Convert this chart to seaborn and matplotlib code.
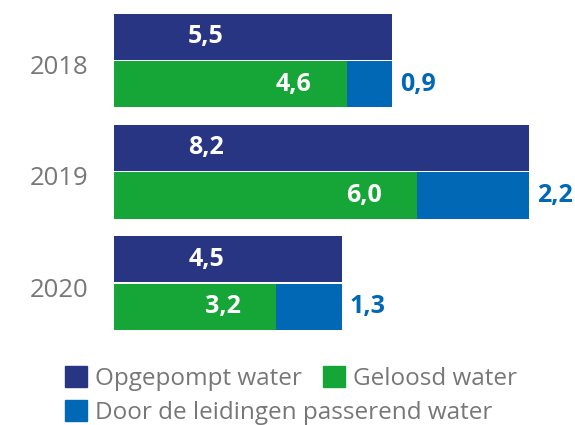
import matplotlib
matplotlib.use("Agg")
import matplotlib.pyplot as plt
import matplotlib.patches as mpatches
from matplotlib.transforms import offset_copy, ScaledTranslation
import seaborn as sns
import pandas as pd

years = ["2018", "2019", "2020"]
opgepompt = [5.5, 8.2, 4.5]
geloosd = [4.6, 6.0, 3.2]
leidingen = [0.9, 2.2, 1.3]
series_names = ["Opgepompt water", "Geloosd water", "Door de leidingen passerend water"]

NAVY = "#283583"
GREEN = "#16a638"
BLUE = "#0068b4"
GRAY = "#777777"

sns.set_theme(style="white")
plt.rcParams["font.family"] = ["Open Sans", "DejaVu Sans"]

fig = plt.figure(figsize=(5.75, 4.25), dpi=100)
ax = fig.add_axes([114 / 575, 1 - 338.5 / 425, 455 / 575, 333.5 / 425])

totals = [g + l for g, l in zip(geloosd, leidingen)]
hue_order = ["top", "bottom"]

df_back = pd.DataFrame({
    "year": years * 2,
    "value": opgepompt + totals,
    "kind": ["top"] * 3 + ["bottom"] * 3,
})
df_front = pd.DataFrame({
    "year": years * 2,
    "value": opgepompt + geloosd,
    "kind": ["top"] * 3 + ["bottom"] * 3,
})

common = dict(y="year", x="value", hue="kind", hue_order=hue_order, order=years,
              orient="y", width=0.856, gap=0.03, errorbar=None, legend=False,
              saturation=1, linewidth=0, ax=ax)
sns.barplot(data=df_back, palette=[NAVY, BLUE], **common)
sns.barplot(data=df_front, palette=[NAVY, GREEN], **common)

ax.set_xlim(0, 9)
ax.set_ylim(2.5, -0.5)
for s in ax.spines.values():
    s.set_visible(False)
ax.set_xticks([])
ax.set_xlabel("")
ax.set_ylabel("")
ax.tick_params(axis="y", length=0, pad=18.5, labelsize=18.5, labelcolor=GRAY)
shift = ScaledTranslation(0, -3 / 72, fig.dpi_scale_trans)
for lab in ax.get_yticklabels():
    lab.set_transform(lab.get_transform() + shift)

def fmt(v):
    return f"{v:.1f}".replace(".", ",")

slot = 0.856 / 2
for i in range(len(years)):
    y_top = i - slot / 2
    y_bot = i + slot / 2
    ax.text(1.82, y_top, fmt(opgepompt[i]), ha="center", va="center",
            color="white", fontsize=18, fontweight="bold")
    t = offset_copy(ax.transData, fig=fig, x=-35, y=0, units="dots")
    ax.text(geloosd[i], y_bot, fmt(geloosd[i]), ha="right", va="center",
            color="white", fontsize=18, fontweight="bold", transform=t)
    t2 = offset_copy(ax.transData, fig=fig, x=8, y=0, units="dots")
    ax.text(totals[i], y_bot, fmt(leidingen[i]), ha="left", va="center",
            color=BLUE, fontsize=18, fontweight="bold", transform=t2)

handles = [mpatches.Patch(color=c, label=n) for c, n in zip([NAVY, GREEN, BLUE], series_names)]
leg_kw = dict(frameon=False, fontsize=17.5, handlelength=0.9, handleheight=0.95,
              handletextpad=0.32, columnspacing=0.9, borderpad=0, borderaxespad=0,
              labelcolor=GRAY, loc="center left")
fig.legend(handles=handles[:2], ncol=2, bbox_to_anchor=(65 / 575, 1 - 378.5 / 425), **leg_kw)
fig.legend(handles=handles[2:], ncol=1, bbox_to_anchor=(65 / 575, 1 - 412.5 / 425), **leg_kw)

fig.savefig("out.png", dpi=100)
